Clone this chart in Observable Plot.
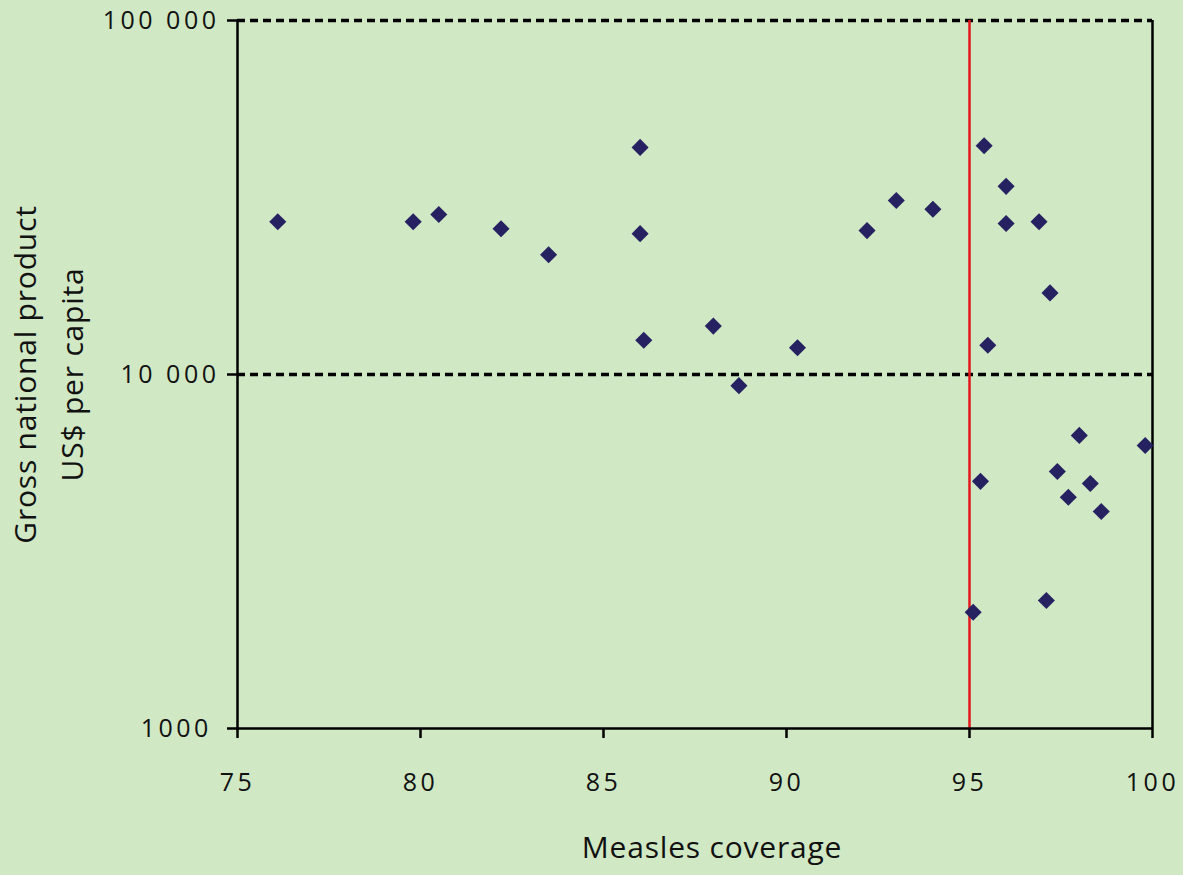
<!DOCTYPE html>
<html>
<head>
<meta charset="utf-8">
<script src="https://cdn.jsdelivr.net/npm/d3@7"></script>
<script src="https://cdn.jsdelivr.net/npm/@observablehq/plot@0.6"></script>
<style>
  html, body { margin: 0; padding: 0; background: #d0e8c4; }
  #chart svg { display: block; }
  #chart g[aria-label="x-axis tick label"] text,
  #chart g[aria-label="y-axis tick label"] text { letter-spacing: 3.5px; }
  #chart g.title text { letter-spacing: 0.8px; }
</style>
</head>
<body>
<div id="chart"></div>
<script>
// Measles coverage (%) per country
const coverage = [76.1, 79.8, 80.5, 82.2, 83.5, 86.0, 86.0, 86.1, 88.0, 88.7, 90.3, 92.2, 93.0, 94.0,
  95.4, 96.0, 96.0, 96.9, 97.2, 95.5, 98.0, 99.8, 97.4, 95.3, 98.3, 97.7, 98.6, 97.1, 95.1];
// Gross national product, US$ per capita
const gnp = [27000, 27000, 28300, 25800, 21800, 43800, 25000, 12500, 13700, 9300, 11900, 25500, 31000, 29300,
  44300, 34000, 26700, 27000, 17000, 12100, 6730, 6300, 5320, 4990, 4920, 4500, 4100, 2300, 2130];

const xTicks = [75, 80, 85, 90, 95, 100];
const yTicks = [1000, 10000, 100000];
const yTickLabels = ["1000\u2009", "10 000", "100 000"];
const threshold = [95];
const guideLines = [10000, 100000];
const xLabel = "Measles coverage";
const yLabel = "Gross national product\nUS$ per capita";

const data = coverage.map((c, i) => ({coverage: c, gnp: gnp[i]}));

const chart = Plot.plot({
  width: 1183,
  height: 875,
  marginLeft: 237,
  marginRight: 31,
  marginTop: 20,
  marginBottom: 147,
  style: {background: "#d0e8c4", fontFamily: "'Open Sans', sans-serif", color: "#000", overflow: "visible"},
  x: {domain: [75, 100]},
  y: {type: "log", domain: [1000, 100000]},
  marks: [
    Plot.ruleY(guideLines, {stroke: "#000", strokeWidth: 3.5, strokeDasharray: "8,5"}),
    Plot.ruleX(threshold, {stroke: "#e3171c", strokeWidth: 2.5}),
    Plot.ruleX([100], {stroke: "#000", strokeWidth: 2.5}),
    Plot.axisX({ticks: xTicks, tickSize: 10, tickPadding: 35, fontSize: 25, strokeWidth: 2.5, label: null, fill: "#111"}),
    Plot.axisY({ticks: yTicks, tickSize: 10, tickPadding: 8, fontSize: 25, strokeWidth: 2.5, label: null, fill: "#111",
      tickFormat: d => yTickLabels[yTicks.indexOf(d)]}),
    Plot.ruleX([75], {stroke: "#000", strokeWidth: 2.5}),
    Plot.ruleY([1000], {stroke: "#000", strokeWidth: 2.5}),
    Plot.dot(data, {x: "coverage", y: "gnp", symbol: "diamond2", r: 7.7, fill: "#262262", stroke: null}),
    Plot.text([xLabel], {frameAnchor: "bottom", dy: 129, dx: 17, fontSize: 30, fill: "#111", className: "title"}),
    Plot.text([yLabel], {frameAnchor: "left", textAnchor: "middle", lineAnchor: "middle", dx: -193, rotate: -90, lineHeight: 1.57, fontSize: 30, fill: "#111", className: "title"})
  ]
});
document.getElementById("chart").appendChild(chart);
</script>
</body>
</html>
